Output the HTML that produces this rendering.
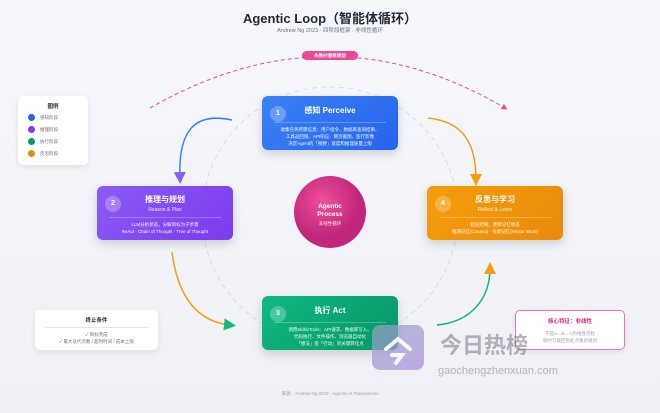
<!DOCTYPE html>
<html><head><meta charset="utf-8"><style>
*{margin:0;padding:0;box-sizing:border-box}
body{width:660px;height:413px;background:linear-gradient(180deg,#f6f7fb,#eef0f5);font-family:"Liberation Sans","Noto Sans CJK SC",sans-serif;position:relative;overflow:hidden;color:#1f2937}
.abs{position:absolute}
.card{position:absolute;width:136px;height:54px;border-radius:6px;color:#fff;text-align:center;box-shadow:0 4px 10px rgba(0,0,0,.15)}
.num{position:absolute;left:8px;top:10px;width:16px;height:16px;border-radius:50%;background:rgba(255,255,255,.25);font-size:7px;line-height:16px;font-weight:bold}
.t{font-size:8px;font-weight:bold;margin-top:8px}
.s{font-size:5px;opacity:.85;margin-top:2px}
.hr{height:1px;background:rgba(255,255,255,.25);margin:4px 12px 3px}
.d{font-size:4.5px;line-height:7px;opacity:.95}
.box{position:absolute;background:#fff;border-radius:5px;box-shadow:0 2px 6px rgba(0,0,0,.08);text-align:center}
</style></head><body>
<div class="abs" style="left:0;width:660px;top:8px;text-align:center;font-size:13px;font-weight:bold;color:#1f2937">Agentic Loop（智能体循环）</div>
<div class="abs" style="left:0;width:660px;top:26px;text-align:center;font-size:5.5px;color:#6b7280">Andrew Ng 2023 · 四阶段框架 · 非线性循环</div>
<svg class="abs" style="left:0;top:0" width="660" height="413">
<defs>
<marker id="mp" markerWidth="8" markerHeight="8" refX="4" refY="4" orient="auto"><path d="M0,0L8,4L0,8z" fill="#8b5cf6"/></marker>
<marker id="mg" markerWidth="8" markerHeight="8" refX="4" refY="4" orient="auto"><path d="M0,0L8,4L0,8z" fill="#10b981"/></marker>
<marker id="mo" markerWidth="8" markerHeight="8" refX="4" refY="4" orient="auto"><path d="M0,0L8,4L0,8z" fill="#f59e0b"/></marker>
<marker id="mk" markerWidth="6" markerHeight="6" refX="3" refY="3" orient="auto"><path d="M0,0L6,3L0,6z" fill="#ec4899"/></marker>
<radialGradient id="cg" cx="40%" cy="35%"><stop offset="0" stop-color="#f0509a"/><stop offset="1" stop-color="#c0267a"/></radialGradient>
<linearGradient id="wg" x1="0" y1="0" x2="1" y2="1"><stop offset="0" stop-color="#9aa3c8"/><stop offset="1" stop-color="#a78bda"/></linearGradient>
</defs>
<circle cx="330" cy="215" r="128" fill="none" stroke="#d8dbe2" stroke-width="1" stroke-dasharray="5,4"/>
<path d="M150,108 Q330,5 505,108" fill="none" stroke="#ec4899" stroke-width="1" stroke-dasharray="4,3" marker-end="url(#mk)"/>
<path d="M232,120 C195,112 178,130 180,178" fill="none" stroke="#3b82f6" stroke-width="1.5" marker-end="url(#mp)"/>
<path d="M172,252 C178,300 200,322 230,325" fill="none" stroke="#f59e0b" stroke-width="1.5" marker-end="url(#mg)"/>
<path d="M437,325 C470,322 490,300 490,268" fill="none" stroke="#10b981" stroke-width="1.5" marker-end="url(#mo)"/>
<path d="M428,118 C465,122 476,145 476,180" fill="none" stroke="#f59e0b" stroke-width="1.5" marker-end="url(#mo)"/>
<circle cx="330" cy="212" r="36" fill="url(#cg)"/>
<text x="330" y="208" text-anchor="middle" font-size="6.5" font-weight="bold" fill="#fff" font-family="Liberation Sans">Agentic</text>
<text x="330" y="216" text-anchor="middle" font-size="6.5" font-weight="bold" fill="#fff" font-family="Liberation Sans">Process</text>
<text x="330" y="225" text-anchor="middle" font-size="4.5" fill="#fde2ef" font-family="Liberation Sans,Noto Sans CJK SC,sans-serif">非线性循环</text>
</svg>
<div class="abs" style="left:302px;top:51px;width:56px;height:9px;border-radius:5px;background:#ec4899;color:#fff;font-size:4.5px;line-height:9px;text-align:center;font-weight:bold">失败时重新规划</div>

<div class="card" style="left:262px;top:96px;background:linear-gradient(135deg,#3b82f6,#2563eb)"><div class="num">1</div><div class="t" style="margin-top:9px">感知 Perceive</div><div class="hr" style="margin-top:6px"></div><div class="d">收集任务所需信息：用户指令、数据库查询结果、<br>工具返回值、API响应、网页截图、医疗影像</div><div class="d">决定Agent的「视野」宽度和推理质量上限</div></div>
<div class="card" style="left:97px;top:186px;background:linear-gradient(135deg,#8b5cf6,#7c3aed)"><div class="num">2</div><div class="t">推理与规划</div><div class="s">Reason &amp; Plan</div><div class="hr"></div><div class="d">LLM分析状态，分解目标为子步骤</div><div class="d">ReAct · Chain of Thought · Tree of Thought</div></div>
<div class="card" style="left:427px;top:186px;background:linear-gradient(135deg,#f59e0b,#ea8a0c)"><div class="num">4</div><div class="t">反思与学习</div><div class="s">Reflect &amp; Learn</div><div class="hr"></div><div class="d">验证结果，更新记忆状态</div><div class="d">短期记忆(Context) · 长期记忆(Vector Store)</div></div>
<div class="card" style="left:262px;top:296px;background:linear-gradient(135deg,#10b981,#059669)"><div class="num">3</div><div class="t" style="margin-top:9px">执行 Act</div><div class="hr" style="margin-top:6px"></div><div class="d">调用Skills/Tools：API请求、数据库写入、<br>代码执行、文件操作、浏览器自动化</div><div class="d">「想法」变「行动」的关键转化点</div></div>

<div class="box" style="left:18px;top:96px;width:70px;height:69px">
<div style="font-size:5.5px;font-weight:bold;margin-top:6px">图例</div>
<div style="text-align:left;padding-left:10px;font-size:4.5px;color:#6b7280;line-height:12px;margin-top:2px">
<div><span style="display:inline-block;width:7px;height:7px;border-radius:50%;background:#2563eb;vertical-align:middle;margin-right:5px"></span>感知阶段</div>
<div><span style="display:inline-block;width:7px;height:7px;border-radius:50%;background:#7c3aed;vertical-align:middle;margin-right:5px"></span>推理阶段</div>
<div><span style="display:inline-block;width:7px;height:7px;border-radius:50%;background:#059669;vertical-align:middle;margin-right:5px"></span>执行阶段</div>
<div><span style="display:inline-block;width:7px;height:7px;border-radius:50%;background:#ea8a0c;vertical-align:middle;margin-right:5px"></span>反思阶段</div></div></div>
<div class="box" style="left:35px;top:310px;width:123px;height:40px">
<div style="font-size:5.5px;font-weight:bold;margin-top:6px">终止条件</div>
<div style="height:1px;background:#e5e7eb;margin:3px 10px"></div>
<div style="font-size:4.5px;color:#6b7280;line-height:7px">✓ 目标完成<br>✓ 最大迭代次数 / 超时时间 / 成本上限</div></div>
<div class="box" style="left:515px;top:310px;width:110px;height:40px;border:1px solid #f472b6">
<div style="font-size:5.5px;font-weight:bold;color:#db2777;margin-top:6px">核心特征：非线性</div>
<div style="font-size:4.5px;color:#9ca3af;line-height:7px;margin-top:5px">不是A→B→C的线性流程<br>随时可能回到起点重新规划</div></div>

<svg class="abs" style="left:372px;top:325px" width="52" height="45"><rect width="52" height="45" rx="8" fill="url(#wg)" opacity=".7"/><path d="M14,24 L26,14 L38,24 M20,30 L30,30 L24,38" fill="none" stroke="#fff" stroke-width="4" stroke-linecap="round" opacity=".9"/></svg>
<div class="abs" style="left:440px;top:328px;font-size:22px;color:rgba(110,110,120,.5);font-weight:bold">今日热榜</div>
<div class="abs" style="left:438px;top:365px;font-size:11px;color:rgba(110,110,120,.45)">gaochengzhenxuan.com</div>
<div class="abs" style="left:0;width:660px;top:391px;text-align:center;font-size:4.5px;color:#9ca3af">来源：Andrew Ng 2023 · Agentic AI Frameworks</div>
</body></html>
